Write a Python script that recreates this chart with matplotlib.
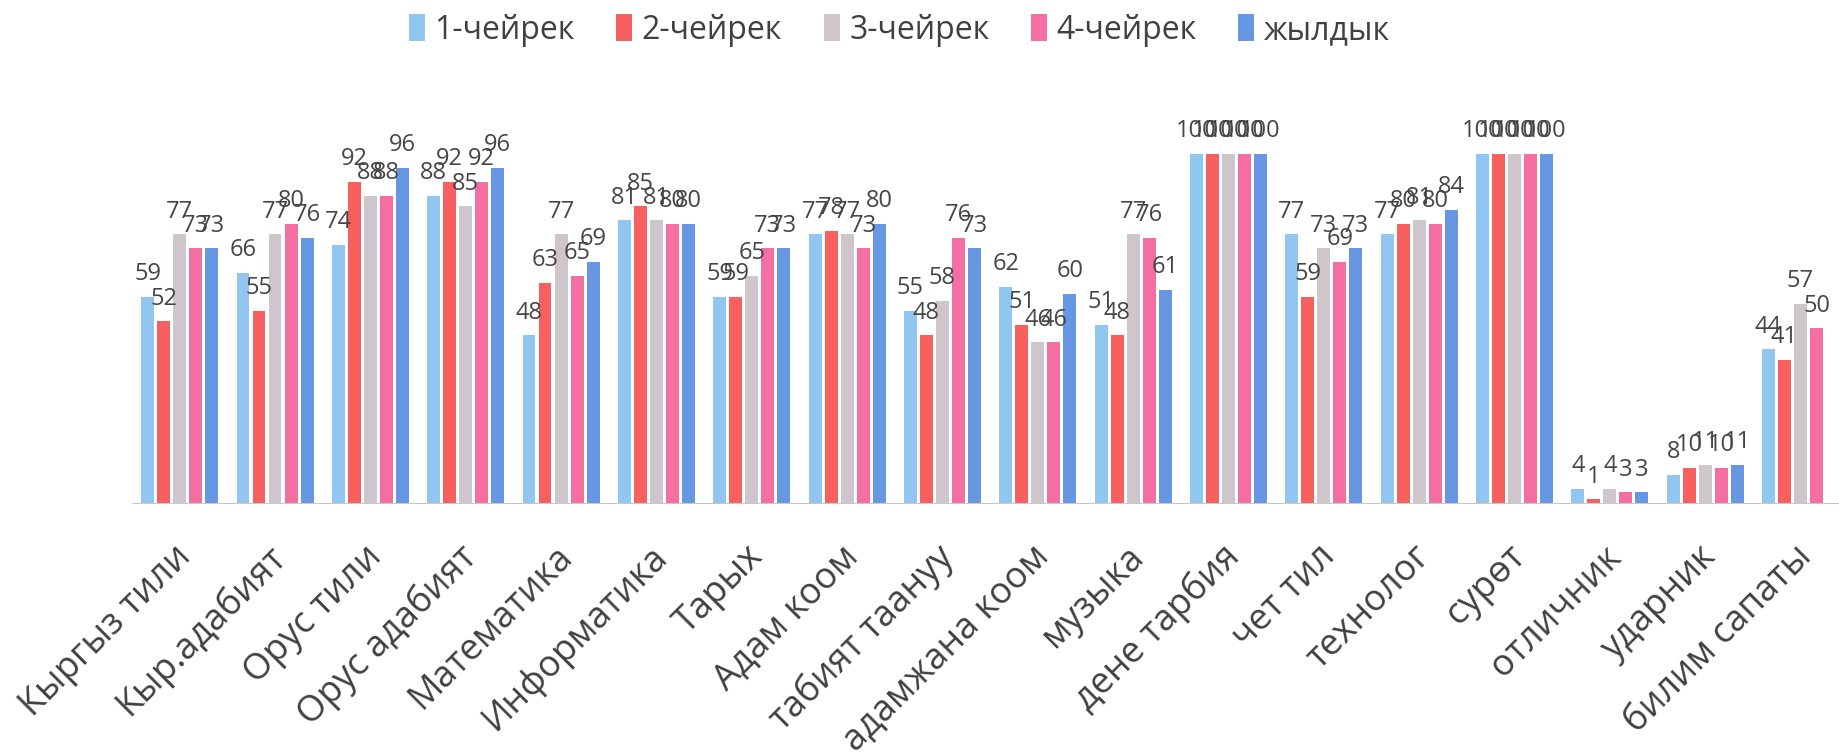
import numpy as np
import matplotlib
matplotlib.use("Agg")
from matplotlib import pyplot as plt
from matplotlib.transforms import ScaledTranslation

plt.rcParams['font.family'] = ['Open Sans', 'DejaVu Sans']

subjects = ['Кыргыз тили', 'Кыр.адабият', 'Орус тили', 'Орус адабият', 'Математика',
            'Информатика', 'Тарых', 'Адам коом', 'табият таануу', 'адамжана коом',
            'музыка', 'дене тарбия', 'чет тил', 'технолог', 'сурөт',
            'отличник', 'ударник', 'билим сапаты']

q1 = [59, 66, 74, 88, 48, 81, 59, 77, 55, 62, 51, 100, 77, 77, 100, 4, 8, 44]
q2 = [52, 55, 92, 92, 63, 85, 59, 78, 48, 51, 48, 100, 59, 80, 100, 1, 10, 41]
q3 = [77, 77, 88, 85, 77, 81, 65, 77, 58, 46, 77, 100, 73, 81, 100, 4, 11, 57]
q4 = [73, 80, 88, 92, 65, 80, 73, 73, 76, 46, 76, 100, 69, 80, 100, 3, 10, 50]
year = [73, 76, 96, 96, 69, 80, 73, 80, 73, 60, 61, 100, 73, 84, 100, 3, 11, None]

series_names = ['1-чейрек', '2-чейрек', '3-чейрек', '4-чейрек', 'жылдык']
colors = ['#91C6F0', '#F85F5F', '#CFC6CB', '#F56EA2', '#6797E2']

series = [q1, q2, q3, q4, year]

fig = plt.figure(figsize=(18.39, 7.56), dpi=100)
ax = fig.add_axes([0.0718, 0.3347, 0.9332, 0.5078])

x = np.arange(len(subjects))
step = 0.168
width = 0.135

for i, (vals, name, col) in enumerate(zip(series, series_names, colors)):
    xs = [xx + (i - 2) * step for xx, v in zip(x, vals) if v is not None]
    vs = [v for v in vals if v is not None]
    bars = ax.bar(xs, vs, width=width, color=col, label=name)
    for b, v in zip(bars, vs):
        ax.annotate(str(v), (b.get_x() + b.get_width() / 2, v),
                    xytext=(0, 12), textcoords='offset points',
                    ha='center', va='baseline', fontsize=17, color='#454545')

ax.set_xlim(-0.5, len(subjects) - 0.5)
ax.set_ylim(0, 110)
ax.set_yticks([])
ax.set_xticks(x)
ax.set_xticklabels(subjects, rotation=45, ha='right', va='center',
                   rotation_mode='anchor', fontsize=26, color='#404040')
ax.tick_params(axis='x', length=0, pad=35)
shift = ScaledTranslation(6 / 100, 0, fig.dpi_scale_trans)
for lbl in ax.get_xticklabels():
    lbl.set_transform(lbl.get_transform() + shift)
for s in ['top', 'right', 'left']:
    ax.spines[s].set_visible(False)
ax.spines['bottom'].set_color('#C8C8C8')

fig.legend(loc='center', bbox_to_anchor=(0.489, 0.96), ncol=5, frameon=False,
           fontsize=23, handlelength=0.5, handleheight=0.9, handletextpad=0.3,
           columnspacing=1.3, labelcolor='#404040')

plt.savefig('out.png', dpi=100)
